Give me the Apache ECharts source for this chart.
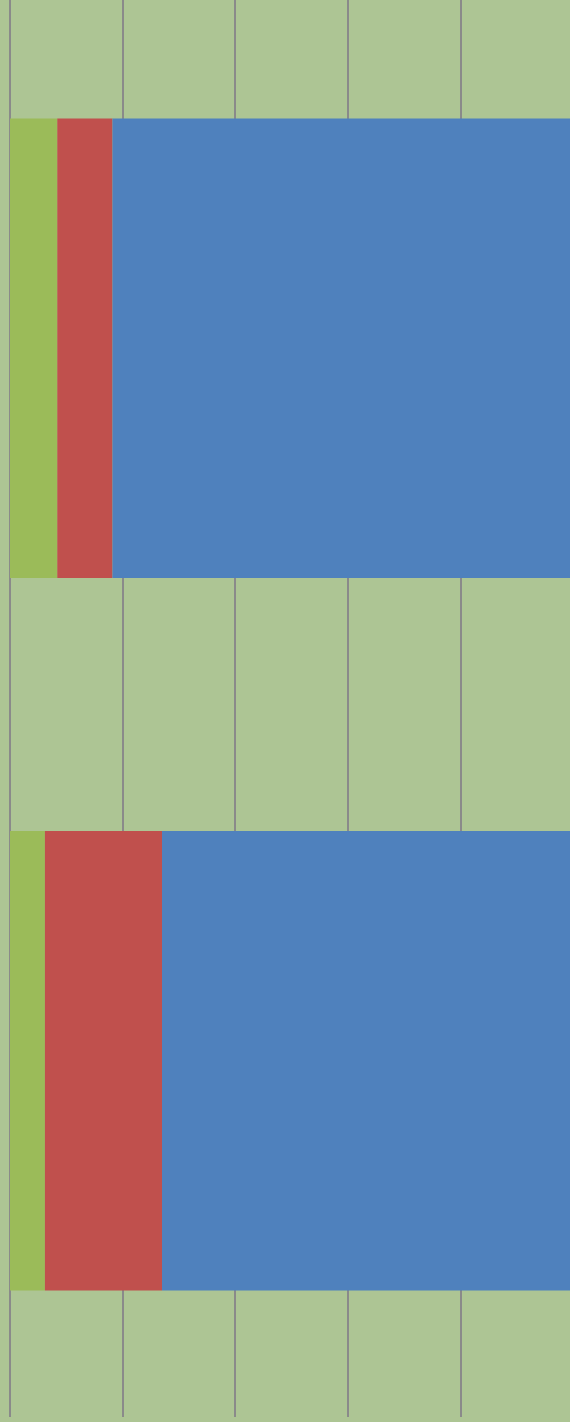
<!DOCTYPE html>
<html>
<head>
<meta charset="utf-8">
<script src="https://cdn.jsdelivr.net/npm/echarts@6/dist/echarts.min.js"></script>
<style>html,body{margin:0;padding:0;background:#adc594;}#c{width:570px;height:1422px;}</style>
</head>
<body>
<div id="c"></div>
<script>
const categories = ['Category 1', 'Category 2'];
const greenValues = [4.2, 3.1];
const redValues = [4.9, 10.4];
const blueValues = [90.9, 86.5];
const xMin = 0, xMax = 100, xInterval = 10;

const chart = echarts.init(document.getElementById('c'));
const mk = (name, data, color) => ({
  name, type: 'bar', stack: 'total', data,
  barWidth: '64.5%',
  itemStyle: { color },
  emphasis: { disabled: true },
  animation: false
});
chart.setOption({
  backgroundColor: '#adc594',
  animation: false,
  grid: { left: 10, top: -8, width: 1126, height: 1425, containLabel: false, outerBoundsMode: 'none' },
  xAxis: {
    type: 'value', min: xMin, max: xMax, interval: xInterval,
    axisLabel: { show: false }, axisTick: { show: false }, axisLine: { show: false },
    splitLine: { show: true, lineStyle: { color: '#8a8a8a', width: 2 } }
  },
  yAxis: {
    type: 'category', data: categories, inverse: true,
    axisLabel: { show: false }, axisTick: { show: false }, axisLine: { show: false },
    splitLine: { show: false }
  },
  series: [
    mk('Green', greenValues, '#9bbb59'),
    mk('Red', redValues, '#c0504d'),
    mk('Blue', blueValues, '#4f81bd')
  ]
});
</script>
</body>
</html>
